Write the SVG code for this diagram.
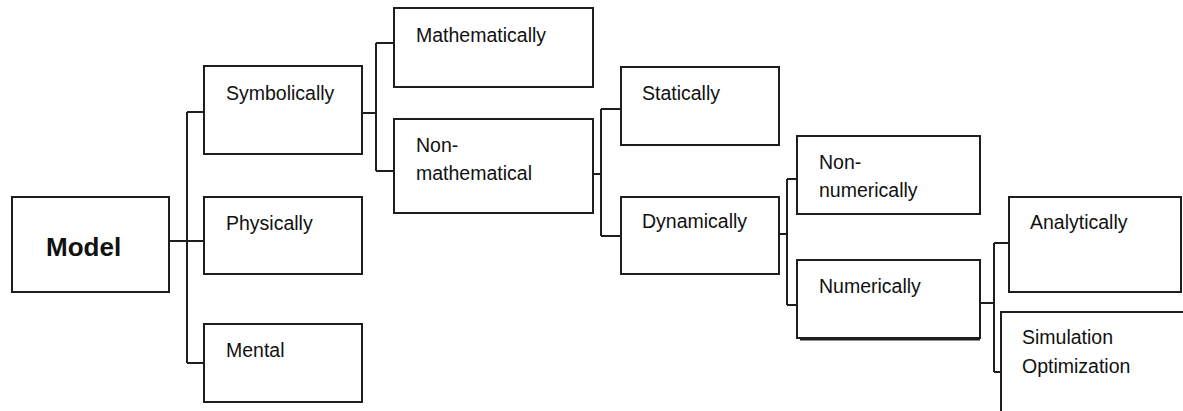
<svg xmlns="http://www.w3.org/2000/svg" width="1183" height="411" viewBox="0 0 1183 411">
<style>
.box{fill:#fff;stroke:#1e1e1e;stroke-width:2}
.t{font-family:"Liberation Sans",Arial,sans-serif;font-size:19.5px;fill:#111}
.b{font-family:"Liberation Sans",Arial,sans-serif;font-size:26px;font-weight:bold;fill:#111}
.c{fill:none;stroke:#1e1e1e;stroke-width:2}
</style>
<rect width="1183" height="411" fill="#fff"/>
<g id="connectors">
<path class="c" d="M169 241H204M187 112V363M187 112H204M187 363H204"/>
<path class="c" d="M362 113H376M376 43V171M376 43H394M376 171H394"/>
<path class="c" d="M593 174H601M601 109V236M601 109H621M601 236H621"/>
<path class="c" d="M779 234H787M787 179V305M787 179H797M787 305H797"/>
<path class="c" d="M980 303H994M994 243V372M994 243H1009M994 372H1001"/>
</g>
<g id="model"><rect class="box" x="12" y="197" width="157" height="95"/><text class="b" x="46" y="256">Model</text></g>
<g id="symbolically"><rect class="box" x="204" y="66" width="158" height="88"/><text class="t" x="226" y="100">Symbolically</text></g>
<g id="physically"><rect class="box" x="204" y="197" width="158" height="77"/><text class="t" x="226" y="230">Physically</text></g>
<g id="mental"><rect class="box" x="204" y="324" width="158" height="78"/><text class="t" x="226" y="357">Mental</text></g>
<g id="mathematically"><rect class="box" x="394" y="8" width="199" height="79"/><text class="t" x="416" y="42">Mathematically</text></g>
<g id="nonmathematical"><rect class="box" x="394" y="119" width="199" height="94"/><text class="t" x="416" y="152">Non-</text><text class="t" x="416" y="180">mathematical</text></g>
<g id="statically"><rect class="box" x="621" y="67" width="158" height="78"/><text class="t" x="642" y="100">Statically</text></g>
<g id="dynamically"><rect class="box" x="621" y="197" width="158" height="77"/><text class="t" x="642" y="228">Dynamically</text></g>
<g id="nonnumerically"><rect class="box" x="797" y="136" width="183" height="78"/><text class="t" x="819" y="169">Non-</text><text class="t" x="819" y="197">numerically</text></g>
<g id="numerically"><rect class="box" x="797" y="260" width="183" height="78"/><path class="c" d="M800 339.5H980"/><text class="t" x="819" y="293">Numerically</text></g>
<g id="analytically"><rect class="box" x="1009" y="197" width="172" height="95"/><text class="t" x="1030" y="229">Analytically</text></g>
<g id="simulation"><rect class="box" x="1001" y="312" width="200" height="110"/><text class="t" x="1022" y="344">Simulation</text><text class="t" x="1022" y="373">Optimization</text></g>
</svg>
